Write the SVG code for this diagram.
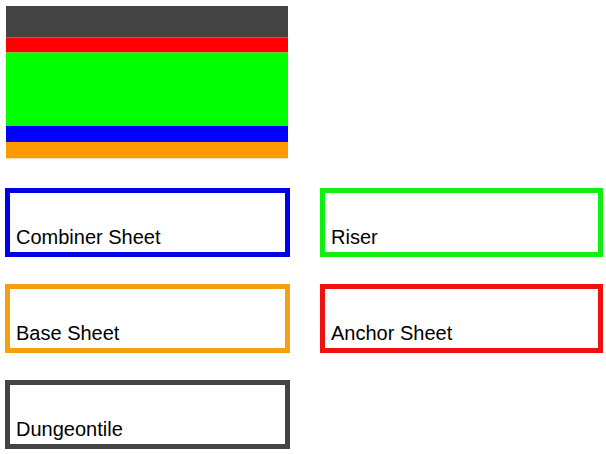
<svg xmlns="http://www.w3.org/2000/svg" width="606" height="454" viewBox="0 0 606 454">
<style>
.box{fill:#fff;stroke-width:5}
.lbl{font-family:"Liberation Sans",Arial,sans-serif;font-size:20px;fill:#000}
</style>
<rect width="606" height="454" fill="#fff"/>
<g id="stack">
<rect x="6" y="6" width="282" height="31.5" fill="#444444"/>
<rect x="6" y="37.5" width="282" height="15" fill="#ff0000"/>
<rect x="6" y="52.5" width="282" height="73.5" fill="#00ff00"/>
<rect x="6" y="126" width="282" height="16" fill="#0000ff"/>
<rect x="6" y="142" width="282" height="16.3" fill="#ff9900"/>
</g>
<g id="combiner-sheet">
<rect class="box" x="7.5" y="190.5" width="280" height="64" stroke="#0000e6"/>
<text class="lbl" x="16" y="243.5">Combiner Sheet</text>
</g>
<g id="riser">
<rect class="box" x="322.5" y="190.5" width="278" height="64" stroke="#11ee11"/>
<text class="lbl" x="331" y="243.5">Riser</text>
</g>
<g id="base-sheet">
<rect class="box" x="7.5" y="286.5" width="280" height="64" stroke="#f5a00f"/>
<text class="lbl" x="16" y="339.5">Base Sheet</text>
</g>
<g id="anchor-sheet">
<rect class="box" x="322.5" y="286.5" width="278" height="64" stroke="#ee1111"/>
<text class="lbl" x="331" y="339.5">Anchor Sheet</text>
</g>
<g id="dungeontile">
<rect class="box" x="7.5" y="382.5" width="280" height="64" stroke="#444444"/>
<text class="lbl" x="16" y="435.5">Dungeontile</text>
</g>
<g id="connectors"></g>
</svg>
